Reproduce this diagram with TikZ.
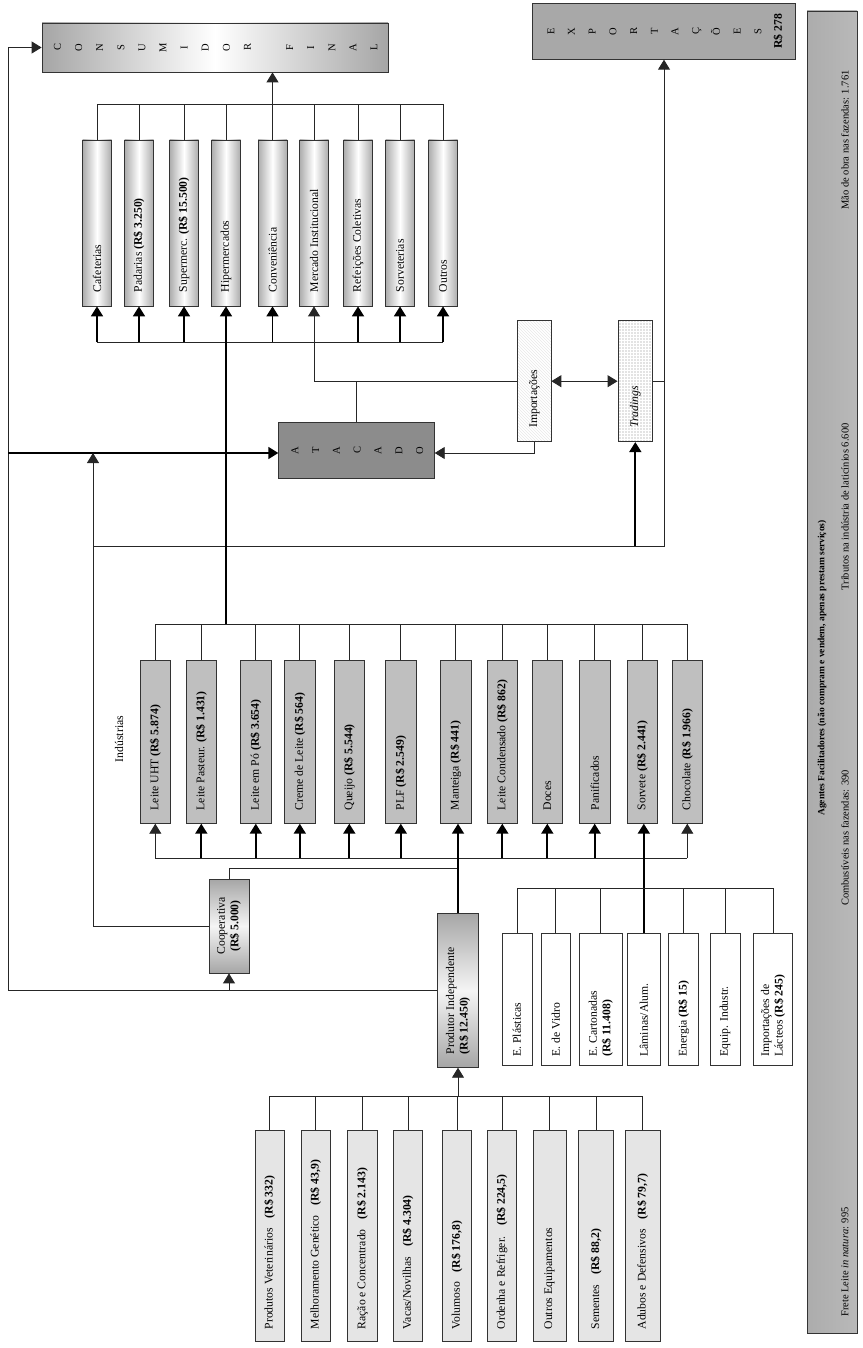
\documentclass[tikz,border=0pt]{standalone}
\usepackage{fontspec}
\setmainfont{Liberation Serif}
\usepackage{graphicx}
\usetikzlibrary{arrows.meta, patterns}

\newcommand{\vt}[2]{\rotatebox{90}{\parbox{#1}{\raggedright #2}}}
\newcommand{\vtc}[2]{\rotatebox{90}{\parbox{#1}{\centering #2}}}
\newcommand{\stack}[2]{\rotatebox{90}{\fontsize{10.5}{#1}\selectfont\begin{tabular}{@{}c@{}}#2\end{tabular}}}

\begin{document}
\begin{tikzpicture}[x=1pt, y=-1pt, font=\fontsize{11.7}{13.5}\selectfont,
  box/.style={draw=black!80, line width=0.8pt, inner sep=0pt},
  cyl/.style={box, left color=gray!65, right color=gray!65, middle color=white, minimum width=29pt, minimum height=166pt},
  ind/.style={box, fill=gray!50, minimum width=30.7pt, minimum height=163pt},
  sup/.style={box, fill=gray!20, minimum height=211pt},
  emb/.style={box, fill=white, minimum height=132.4pt},
  ln/.style={line width=0.9pt, black!85},
  tk/.style={line width=1.8pt, black},
  tip/.style={-{Triangle[length=10pt,width=12pt]}},
  dtip/.style={{Triangle[length=10pt,width=12pt]}-{Triangle[length=10pt,width=12pt]}}]
\useasboundingbox (0,0) rectangle (862,1348);

% Consumidor final
\node[box, left color=gray!70, right color=gray!70, middle color=white, minimum width=346pt, minimum height=49pt] (cons) at (215,47.5) {\stack{21.1pt}{C\\O\\N\\S\\U\\M\\I\\D\\O\\R\\ \\F\\I\\N\\A\\L}};
\foreach \n/\x/\t in {c1/97/Cafeterias, c2/139/{Padarias \textbf{(R\$ 3.250)}}, c3/184/{Supermerc. \textbf{(R\$ 15.500)}}, c4/226/Hipermercados, c5/272.5/Conveniência, c6/314/Mercado Institucional, c7/358/Refeições Coletivas, c8/400/Sorveterias, c9/443/Outros}
  \node[cyl] (\n) at (\x,223) {\vt{138pt}{\t}};

% Exportacoes
\node[box, fill=gray!68, minimum width=262.6pt, minimum height=56pt] (exp) at (664,31.3) {\stack{20.7pt}{E\\X\\P\\O\\R\\T\\A\\Ç\\Õ\\E\\S\\\fontsize{11.7}{20.7}\selectfont\bfseries R\$ 278}};

% Atacado, importacoes, tradings
\node[box, fill=gray!90, minimum width=155.6pt, minimum height=56pt] (atac) at (356.5,450.3) {\stack{20.8pt}{A\\T\\A\\C\\A\\D\\O}};
\node[box, pattern=north west lines, pattern color=gray!18, minimum width=33.3pt, minimum height=121pt] (imp) at (534.3,381.2) {\vt{93pt}{Importações}};
\node[box, preaction={fill=gray!22}, pattern=grid, pattern color=white, minimum width=34.7pt, minimum height=121pt] (trad) at (635.3,381.2) {\vt{93pt}{\textit{Tradings}}};

% Industrias
\node (indl) at (119,739) {\rotatebox{90}{Indústrias}};
\foreach \n/\x/\t in {i1/155.3/{Leite UHT \textbf{(R\$ 5.874)}}, i2/201.3/{Leite Pasteur. \textbf{(R\$ 1.431)}}, i3/255.8/{Leite em Pó \textbf{(R\$ 3.654)}}, i4/299.8/{Creme de Leite \textbf{(R\$ 564)}}, i5/349.3/{Queijo \textbf{(R\$ 5.544)}}, i6/400.8/{PLF \textbf{(R\$ 2.549)}}, i7/455.7/{Manteiga \textbf{(R\$ 441)}}, i8/502.3/{Leite Condensado \textbf{(R\$ 862)}}, i9/547.3/Doces, i10/594.7/Panificados, i11/642.3/{Sorvete \textbf{(R\$ 2.441)}}, i12/687.3/{Chocolate \textbf{(R\$ 1.966)}}}
  \node[ind] (\n) at (\x,741.8) {\vt{137pt}{\t}};

% Cooperativa e produtor
\node[box, top color=gray!70, bottom color=gray!70, middle color=gray!8, minimum width=40pt, minimum height=94pt] (coop) at (229,926) {\vtc{80pt}{Cooperativa\\\textbf{(R\$ 5.000)}}};
\node[box, top color=gray!70, bottom color=gray!70, middle color=gray!8, minimum width=40.6pt, minimum height=154pt] (prod) at (458,990.3) {\vt{128pt}{Produtor Independente\\\textbf{(R\$ 12.450)}}};

% Embalagens e insumos da industria
\node[emb, minimum width=30pt] (e1) at (517,999.5) {\vt{114pt}{E. Plásticas}};
\node[emb, minimum width=29.7pt] (e2) at (555.8,999.5) {\vt{114pt}{E. de Vidro}};
\node[emb, minimum width=43.3pt] (e3) at (600.7,999.5) {\vt{114pt}{E. Cartonadas\\\textbf{(R\$ 11.408)}}};
\node[emb, minimum width=32.3pt] (e4) at (643.8,999.5) {\vt{114pt}{Lâminas/Alum.}};
\node[emb, minimum width=30pt] (e5) at (683.7,999.5) {\vt{114pt}{Energia \textbf{(R\$ 15)}}};
\node[emb, minimum width=30pt] (e6) at (725,999.5) {\vt{114pt}{Equip. Industr.}};
\node[emb, minimum width=39.4pt] (e7) at (773,999.5) {\vt{114pt}{Importações de\\Lácteos \textbf{(R\$ 245)}}};

% Insumos da fazenda
\foreach \n/\x/\w/\t in {s1/269.7/29.3/{Produtos Veterinários\hspace{7pt} \textbf{(R\$ 332)}}, s2/315.7/29.3/{Melhoramento Genético\hspace{7pt} \textbf{(R\$ 43,9)}}, s3/362.3/29.3/{Ração e Concentrado\hspace{7pt} \textbf{(R\$ 2.143)}}, s4/408/29.4/{Vacas/Novilhas\hspace{7pt} \textbf{(R\$ 4.304)}}, s5/457/29.4/{Volumoso\hspace{7pt} \textbf{(R\$ 176,8)}}, s6/502/29.4/{Ordenha e Refriger.\hspace{7pt} \textbf{(R\$ 224,5)}}, s7/549.5/33/Outros Equipamentos, s8/596/34.3/{Sementes\hspace{7pt} \textbf{(R\$ 88,2)}}, s9/642.5/35/{Adubos e Defensivos\hspace{7pt} \textbf{(R\$ 79,7)}}}
  \node[sup, minimum width=\w pt] (\n) at (\x,1236.3) {\vt{186pt}{\t}};

% Agentes facilitadores
\node[box, left color=gray!65, middle color=gray!5, right color=gray!55, minimum width=50pt, minimum height=1322pt] (ag) at (832,672) {};
\node[font=\fontsize{9.5}{11}\selectfont\bfseries] (ag0) at (822,668) {\rotatebox{90}{Agentes Facilitadores (não compram e vendem, apenas prestam serviços)}};
\node[font=\fontsize{10.5}{12}\selectfont] (ag1) at (845,1262) {\rotatebox{90}{Frete Leite \textit{in natura}: 995}};
\node[font=\fontsize{10.5}{12}\selectfont] (ag2) at (845,838) {\rotatebox{90}{Combustíveis nas fazendas: 390}};
\node[font=\fontsize{10.5}{12}\selectfont] (ag3) at (845,507) {\rotatebox{90}{Tributos na indústria de laticínios 6.600}};
\node[font=\fontsize{10.5}{12}\selectfont] (ag4) at (845,140) {\rotatebox{90}{Mão de obra nas fazendas: 1.761}};

% Bus levels
\coordinate (bot) at (0,342);
\coordinate (al) at (0,453);
\coordinate (xl) at (0,546);
\coordinate (itop) at (0,624.3);
\coordinate (ibot) at (0,858);
\coordinate (ebus) at (0,888);
\coordinate (sbus) at (0,1096);
\coordinate (L) at (8,0);
\coordinate (K) at (93,0);

% Canais -> consumidor
\draw[ln] (c1.north) -- ++(0,-35) -| (c9.north);
\foreach \n in {c2,c3,c4,c6,c7,c8}
  \draw[ln] (\n.north) -- ++(0,-35);
\draw[ln, tip] (c5.north) -- (cons.south -| c5.north);
\draw[ln] (c1.south |- bot) -- (c9.south |- bot);
\foreach \n in {c1,c2,c3,c5,c7,c8,c9}
  \draw[tk, tip] (\n.south |- bot) -- (\n.south);

% Atacado e comercio externo
\draw[ln, tip] (imp.west) -| (c6.south);
\draw[ln] (atac.north) -- (atac.north |- imp.west);
\draw[ln, dtip] (imp.east) -- (trad.west);
\draw[ln, tip] (imp.south) |- (atac.east |- al);
\draw[ln] (trad.east) -- (trad.east -| exp.south);
\draw[ln, tip] (xl -| K) -| (exp.south);
\draw[tk, tip] (trad.south |- xl) -- (trad.south);

% Circuito externo
\draw[ln, tip] (prod.west) -- (prod.west -| L) -- (cons.west -| L) -- (cons.west);
\draw[tk, tip] (al -| L) -- (atac.west |- al);
\draw[ln, tip] (coop.west) -| (al -| K);
\draw[ln, tip] (coop.south |- prod.west) -- (coop.south);
\draw[ln] (coop.north) -- ++(0,-10) coordinate (cj) -- (cj -| prod.north);

% Industrias
\draw[ln] (i1.north) -- (i1.north |- itop) -- (i12.north |- itop) -- (i12.north);
\foreach \n in {i2,i3,i4,i5,i6,i7,i8,i9,i10,i11}
  \draw[ln] (\n.north) -- (\n.north |- itop);
\draw[tk, tip] (c4.south |- itop) -- (c4.south);
\draw[ln] (i1.south |- ibot) -- (i12.south |- ibot);
\draw[ln, tip] (i1.south |- ibot) -- (i1.south);
\draw[ln, tip] (i12.south |- ibot) -- (i12.south);
\foreach \n in {i2,i3,i4,i5,i6,i8,i9,i10}
  \draw[tk, tip] (\n.south |- ibot) -- (\n.south);
\draw[tk, tip] (prod.north) -- (prod.north |- i7.south);
\draw[tk, tip] (e4.north) -- (e4.north |- i11.south);

% Embalagens
\draw[ln] (e1.north) -- (e1.north |- ebus) -- (e7.north |- ebus) -- (e7.north);
\foreach \n in {e2,e3,e5,e6}
  \draw[ln] (\n.north) -- (\n.north |- ebus);

% Insumos
\draw[ln] (s1.north) -- (s1.north |- sbus) -- (s9.north |- sbus) -- (s9.north);
\foreach \n in {s2,s3,s4,s5,s6,s7,s8}
  \draw[ln] (\n.north) -- (\n.north |- sbus);
\draw[ln, tip] (prod.south |- sbus) -- (prod.south);
\end{tikzpicture}
\end{document}
